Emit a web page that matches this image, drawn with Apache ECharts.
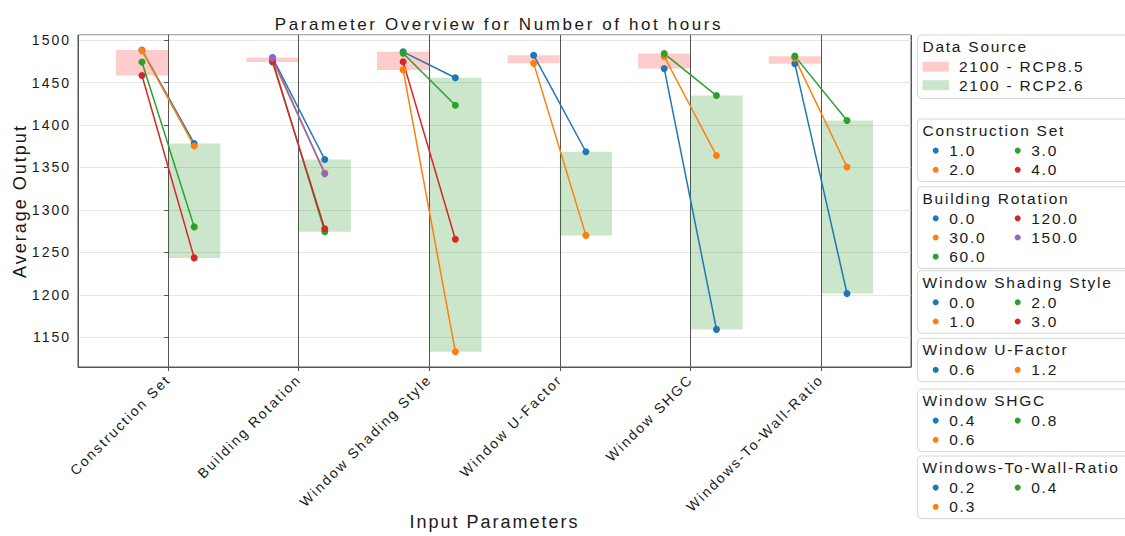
<!DOCTYPE html>
<html><head><meta charset="utf-8">
<script src="https://cdn.jsdelivr.net/npm/echarts@6/dist/echarts.min.js"></script>
<style>
html,body{margin:0;padding:0;background:#fff;}
#c{width:1125px;height:536px;}
#c svg text{letter-spacing:2px;}
#c svg text[style*="17px"]{letter-spacing:2.6px;}
#c svg text[style*="15.5px"]{letter-spacing:1.75px;}
</style></head><body><div id="c"></div>
<script>
// ---------- data ----------
const parameters = ['Construction Set', 'Building Rotation', 'Window Shading Style', 'Window U-Factor', 'Window SHGC', 'Windows-To-Wall-Ratio'];
const scenarios = ['2100 - RCP8.5', '2100 - RCP2.6'];

const levelsConstruction = ['1.0', '2.0', '3.0', '4.0'];
const rcp85Construction = [1488.3, 1487.6, 1474.1, 1458.3];
const rcp26Construction = [1378.3, 1375.2, 1280.0, 1243.5];

const levelsRotation = ['0.0', '30.0', '60.0', '120.0', '150.0'];
const rcp85Rotation = [1479.4, 1477.0, 1476.0, 1474.1, 1478.8];
const rcp26Rotation = [1359.4, 1343.4, 1274.4, 1277.8, 1342.7];

const levelsShading = ['0.0', '1.0', '2.0', '3.0'];
const rcp85Shading = [1486.2, 1464.9, 1484.5, 1474.5];
const rcp26Shading = [1455.6, 1133.0, 1423.2, 1265.5];

const levelsUFactor = ['0.6', '1.2'];
const rcp85UFactor = [1482.2, 1472.6];
const rcp26UFactor = [1368.5, 1270.0];

const levelsSHGC = ['0.4', '0.6', '0.8'];
const rcp85SHGC = [1466.4, 1480.7, 1484.1];
const rcp26SHGC = [1159.3, 1364.0, 1434.7];

const levelsWWR = ['0.2', '0.3', '0.4'];
const rcp85WWR = [1472.2, 1478.8, 1481.1];
const rcp26WWR = [1201.6, 1350.5, 1405.3];

const yMin = 1115, yMax = 1506;

// ---------- style ----------
const palette = ['#1f77b4', '#ff7f0e', '#2ca02c', '#d62728', '#9467bd'];
const bandColors = ['rgba(255,0,0,0.2)', 'rgba(0,128,0,0.2)'];
const FONT = '"Liberation Sans", Arial, sans-serif';

const groups = [
  {levels: levelsConstruction, a: rcp85Construction, b: rcp26Construction},
  {levels: levelsRotation, a: rcp85Rotation, b: rcp26Rotation},
  {levels: levelsShading, a: rcp85Shading, b: rcp26Shading},
  {levels: levelsUFactor, a: rcp85UFactor, b: rcp26UFactor},
  {levels: levelsSHGC, a: rcp85SHGC, b: rcp26SHGC},
  {levels: levelsWWR, a: rcp85WWR, b: rcp26WWR}
];

const OFF = 0.2, BAND = 0.4;
const series = [];

// bands (range of each scenario's values)
function bandSeries(idx, x0, x1) {
  return {
    type: 'custom', name: scenarios[idx], z: 1, silent: true,
    data: groups.map((g, i) => {
      const v = idx === 0 ? g.a : g.b;
      return [i, Math.min(...v), Math.max(...v)];
    }),
    renderItem: (params, api) => {
      const i = api.value(0);
      const p1 = api.coord([i + x0, api.value(2)]);
      const p2 = api.coord([i + x1, api.value(1)]);
      return {type: 'rect', shape: {x: p1[0], y: p1[1], width: p2[0] - p1[0], height: p2[1] - p1[1]},
              style: {fill: bandColors[idx]}};
    }
  };
}
series.push(bandSeries(0, -BAND, 0));
series.push(bandSeries(1, 0, BAND));

groups.forEach((g, i) => {
  g.levels.forEach((lv, j) => {
    series.push({
      type: 'line', name: parameters[i] + ' ' + lv, z: 3,
      data: [[i - OFF, g.a[j]], [i + OFF, g.b[j]]],
      symbol: 'circle', symbolSize: 7, showSymbol: true,
      itemStyle: {color: palette[j]}, lineStyle: {color: palette[j], width: 1.5},
      emphasis: {disabled: true}, animation: false
    });
  });
});

// ---------- legend (graphic) ----------
const graphic = [];
const LX = 917.5, LW = 220;
const txt = (x, y, s, size) => ({type: 'text', x: x, y: y,
  style: {text: s, fill: '#1a1a1a', font: size + 'px ' + FONT, textVerticalAlign: 'middle', textAlign: 'left'}});

// Data Source box
graphic.push({type: 'rect', shape: {x: LX, y: 35, width: LW, height: 63.5, r: 4},
  style: {fill: '#fff', stroke: '#d6d6d6', lineWidth: 1}});
graphic.push(txt(922.5, 46.5, 'Data Source', 15.5));
scenarios.forEach((s, k) => {
  const cy = 66.7 + k * 18.5;
  graphic.push({type: 'rect', shape: {x: 922.5, y: cy - 5, width: 26.5, height: 10}, style: {fill: bandColors[k]}});
  graphic.push(txt(959, cy, s, 15.5));
});

const boxTops = [119, 186.7, 270.7, 338.3, 389, 456];
groups.forEach((g, i) => {
  const n = g.levels.length, rows = Math.ceil(n / 2);
  const top = boxTops[i];
  const h = 31.6 + (rows - 1) * 19.2 + 11.8;
  graphic.push({type: 'rect', shape: {x: LX, y: top, width: LW, height: h, r: 4},
    style: {fill: '#fff', stroke: '#d6d6d6', lineWidth: 1}});
  graphic.push(txt(922.5, top + 11.5, parameters[i], 15.5));
  g.levels.forEach((lv, k) => {
    const col = Math.floor(k / rows), row = k % rows;
    const cy = top + 31.6 + row * 19.2;
    const cx = 935.7 + col * 82;
    graphic.push({type: 'circle', shape: {cx: cx, cy: cy, r: 3}, style: {fill: palette[k]}});
    graphic.push(txt(cx + 13.5, cy, lv, 15.5));
  });
});

// ---------- chart ----------
const chart = echarts.init(document.getElementById('c'), null, {renderer: 'svg', width: 1125, height: 536});
chart.setOption({
  animation: false,
  backgroundColor: '#fff',
  textStyle: {fontFamily: FONT},
  title: {text: 'Parameter Overview for Number of hot hours', left: 494, top: 11, textAlign: 'center',
    textStyle: {fontSize: 17, fontWeight: 'normal', color: '#1a1a1a', fontFamily: FONT}},
  grid: {left: 78, right: 214, top: 35, bottom: 164, show: true, borderColor: '#555', borderWidth: 1, backgroundColor: 'transparent'},
  xAxis: {
    type: 'value', min: -0.69, max: 5.69, splitNumber: 6,
    name: 'Input Parameters', nameLocation: 'middle', nameGap: 146,
    nameTextStyle: {fontSize: 18, color: '#1a1a1a', fontFamily: FONT},
    axisLine: {show: true, lineStyle: {color: '#555', width: 1}},
    axisTick: {show: true, length: 4, lineStyle: {color: '#555'}},
    axisLabel: {rotate: 45, margin: 10, fontSize: 14, color: '#1a1a1a', showMinLabel: false, showMaxLabel: false,
      formatter: v => (Math.abs(v - Math.round(v)) < 1e-6 && parameters[Math.round(v)]) ? parameters[Math.round(v)] : ''},
    splitLine: {show: true, lineStyle: {color: '#555', width: 1}}
  },
  yAxis: {
    type: 'value', min: yMin, max: yMax, splitNumber: 8,
    name: 'Average Output', nameLocation: 'middle', nameGap: 42,
    nameTextStyle: {fontSize: 18, color: '#1a1a1a', fontFamily: FONT},
    axisLine: {show: true, lineStyle: {color: '#555', width: 1}},
    axisTick: {show: true, length: 4, lineStyle: {color: '#555'}},
    axisLabel: {fontSize: 14, margin: 7, color: '#1a1a1a', showMinLabel: false, showMaxLabel: false,
      formatter: v => String(Math.round(v))},
    splitLine: {show: true, lineStyle: {color: '#e6e6e6', width: 1}}
  },
  graphic: graphic,
  series: series
});
</script></body></html>
